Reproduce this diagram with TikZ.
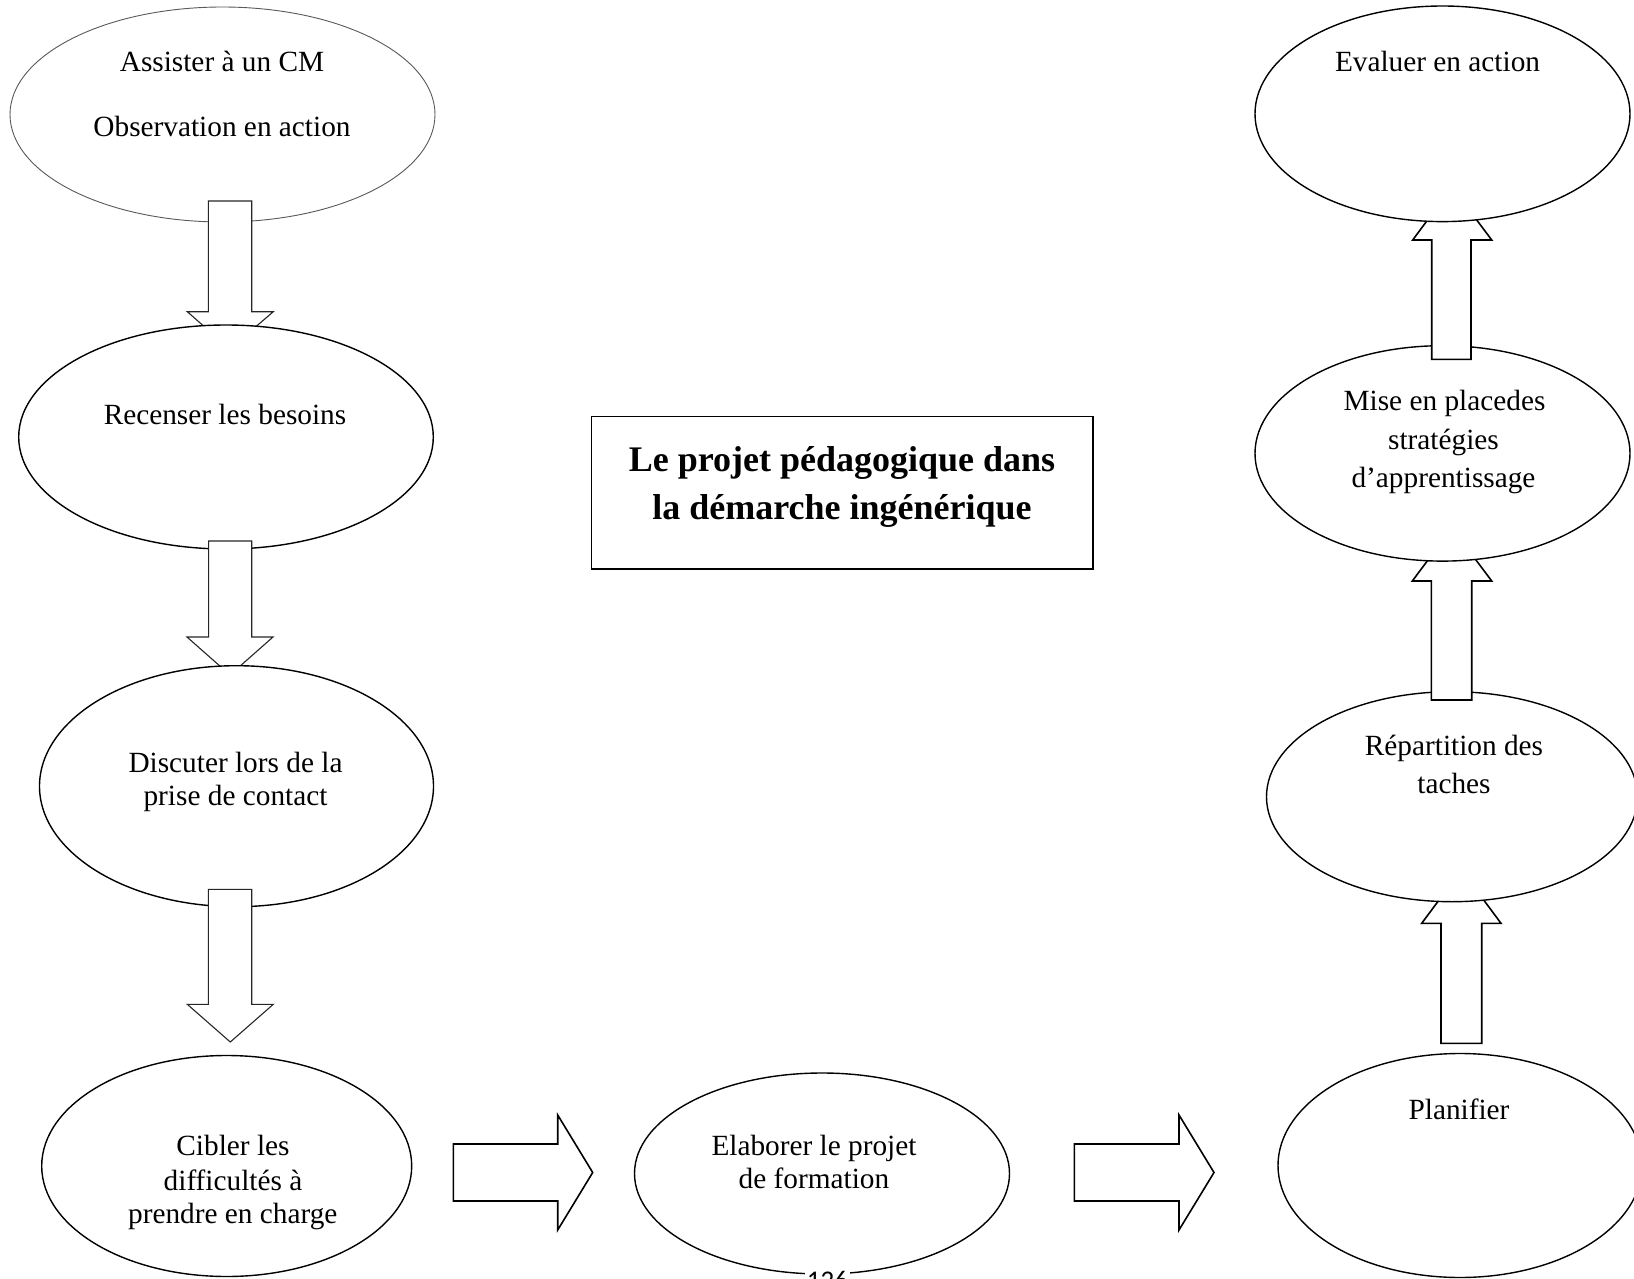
\documentclass[tikz,border=0pt]{standalone}
\usepackage{fontspec}
\setmainfont{Liberation Serif}
\newfontfamily\pagenumfont{Carlito}
\usetikzlibrary{shapes.geometric}

\tikzset{
  bubble/.style={ellipse, draw=black, line width=1.4pt, fill=white, inner sep=0pt},
  faintbubble/.style={bubble, draw=black!65, line width=0.9pt},
  txt/.style={anchor=base, inner sep=0pt, font=\fontsize{29.3}{33}\selectfont},
  titletxt/.style={anchor=base, inner sep=0pt, font=\fontsize{36}{48}\selectfont\bfseries},
  thinblock/.style={draw=black!85, line width=1.1pt, fill=white, line join=miter},
  block/.style={draw=black, line width=1.6pt, fill=white, line join=miter},
  framebox/.style={draw=black, line width=1.4pt, fill=white}
}

% ellipse of given centre and half-axes
\newcommand{\bubbleat}[6][bubble]{%
  \node[#1, minimum width=#5*2pt, minimum height=#6*2pt] (#2) at (#3,#4) {};}

\begin{document}
\begin{tikzpicture}[x=1pt, y=-1pt]
\useasboundingbox (0,0) rectangle (1634,1279);

% ---- left column, downward flow ----
\bubbleat[faintbubble]{assister}{222.5}{114.5}{212.5}{107.5}
\draw[thinblock] (208.3,201) -- (251.7,201) -- (251.7,311.7) -- (273.3,311.7)
  -- (229.8,349) -- (187.3,311.7) -- (208.3,311.7) -- cycle;
\bubbleat{recenser}{226}{437}{207.3}{112}
\draw[thinblock] (208.6,541) -- (251.7,541) -- (251.7,637) -- (273,637)
  -- (230,675) -- (187,637) -- (208.6,637) -- cycle;
\bubbleat{discuter}{236.5}{786.2}{197}{120.5}
\draw[thinblock] (208.3,889.3) -- (251.7,889.3) -- (251.7,1004.3) -- (273.3,1004.3)
  -- (230.3,1042) -- (187.3,1004.3) -- (208.3,1004.3) -- cycle;
\bubbleat{cibler}{226.7}{1166}{185}{110.5}

% ---- bottom row, rightward flow ----
\draw[block] (453.3,1144) -- (557.7,1144) -- (557.7,1115) -- (592.7,1172.5)
  -- (557.7,1230) -- (557.7,1201) -- (453.3,1201) -- cycle;
\bubbleat{elaborer}{822}{1173.5}{187.5}{100.5}
\draw[block] (1074.3,1144) -- (1179,1144) -- (1179,1115) -- (1214,1172.5)
  -- (1179,1230) -- (1179,1201) -- (1074.3,1201) -- cycle;
\bubbleat{planifier}{1460}{1165.5}{182}{112}

% ---- right column, upward flow ----
\draw[block] (1441,1043.3) -- (1481.7,1043.3) -- (1481.7,923.3) -- (1501,923.3)
  -- (1461.4,870) -- (1421.7,923.3) -- (1441,923.3) -- cycle;
\bubbleat{repartition}{1452}{796.7}{185.5}{105}
\draw[block] (1431.3,700) -- (1471.7,700) -- (1471.7,581) -- (1491.7,581)
  -- (1452,528) -- (1412.3,581) -- (1431.3,581) -- cycle;
\bubbleat{miseplace}{1442.5}{453.4}{187.5}{107.7}
\draw[block] (1431.7,359.3) -- (1471,359.3) -- (1471,240) -- (1491.7,240)
  -- (1452,187) -- (1412.7,240) -- (1431.7,240) -- cycle;
\bubbleat{evaluer}{1442.5}{113.8}{187.5}{107.8}

% ---- central title frame ----
\draw[framebox] (591.7,416.7) rectangle (1093,569);
\node[titletxt] (titleA) at (842,471) {Le projet pédagogique dans};
\node[titletxt] (titleB) at (842,519.5) {la démarche ingénérique};

% ---- texts of the steps ----
\node[txt] (assisterA) at (222,71.7) {Assister à un CM};
\node[txt] (assisterB) at (222,136.7) {Observation en action};
\node[txt] (recenserA) at (225,424.7) {Recenser les besoins};
\node[txt] (discuterA) at (235.5,772.7) {Discuter lors de la};
\node[txt] (discuterB) at (235.5,805) {prise de contact};
\node[txt] (ciblerA) at (233,1155) {Cibler les};
\node[txt] (ciblerB) at (233,1190) {difficultés à};
\node[txt] (ciblerC) at (232.8,1223.3) {prendre en charge};
\node[txt] (elaborerA) at (814,1155.5) {Elaborer le projet};
\node[txt] (elaborerB) at (814,1188.5) {de formation};
\node[txt] (planifierA) at (1459,1119) {Planifier};
\node[txt] (repartitionA) at (1454,755) {Répartition des};
\node[txt] (repartitionB) at (1454,793.3) {taches};
\node[txt] (miseA) at (1444.5,410) {Mise en placedes};
\node[txt] (miseB) at (1443.5,449.5) {stratégies};
\node[txt] (miseC) at (1443.5,487) {d’apprentissage};
\node[txt] (evaluerA) at (1437.5,71.7) {Evaluer en action};

% ---- page number, cut by the lower edge ----
\node[anchor=north, fill=white, inner sep=2pt, font=\pagenumfont\fontsize{27}{30}\selectfont]
  (pagenum) at (827.5,1269.5) {126};
\end{tikzpicture}
\end{document}
